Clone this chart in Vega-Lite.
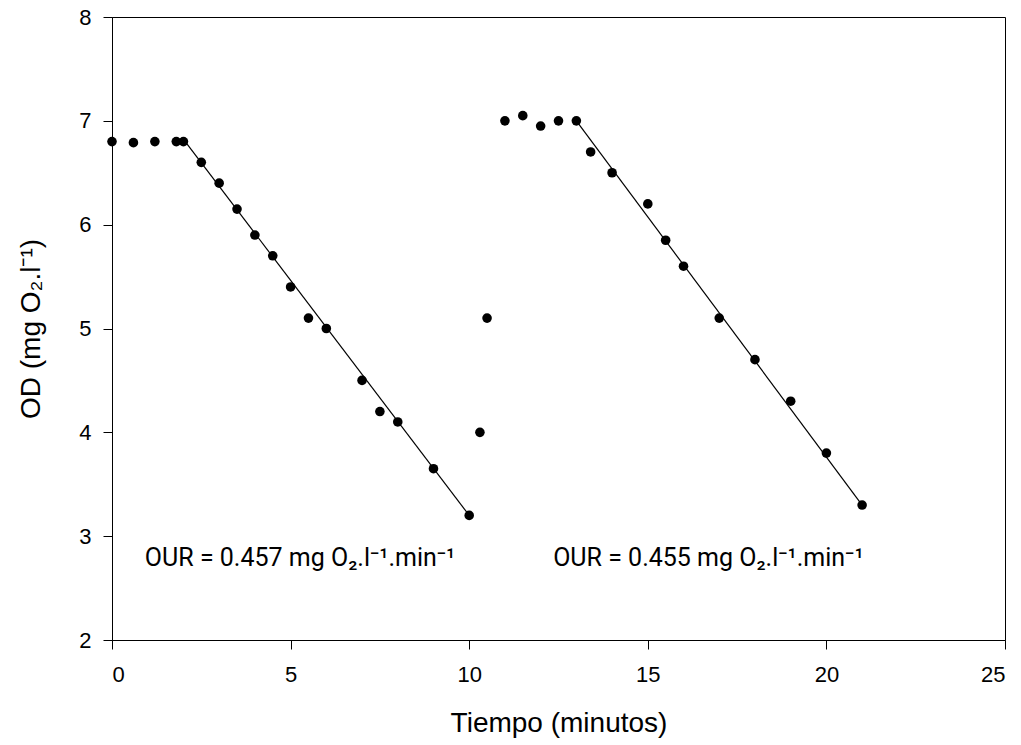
{
  "$schema": "https://vega.github.io/schema/vega-lite/v6.json",
  "width": 893,
  "height": 623,
  "autosize": {"type": "none"},
  "padding": {"left": 112, "top": 17, "right": 16, "bottom": 105},
  "background": "white",
  "config": {
    "view": {"stroke": "black", "strokeWidth": 1}
  },
  "datasets": {
    "pts": [
      {"t": 0, "od": 6.8}, {"t": 0.6, "od": 6.79}, {"t": 1.2, "od": 6.8}, {"t": 1.8, "od": 6.8}, {"t": 2.0, "od": 6.8},
      {"t": 2.5, "od": 6.6}, {"t": 3.0, "od": 6.4}, {"t": 3.5, "od": 6.15}, {"t": 4.0, "od": 5.9}, {"t": 4.5, "od": 5.7},
      {"t": 5.0, "od": 5.4}, {"t": 5.5, "od": 5.1}, {"t": 6.0, "od": 5.0}, {"t": 7.0, "od": 4.5}, {"t": 7.5, "od": 4.2},
      {"t": 8.0, "od": 4.1}, {"t": 9.0, "od": 3.65}, {"t": 10.0, "od": 3.2}, {"t": 10.3, "od": 4.0}, {"t": 10.5, "od": 5.1},
      {"t": 11.0, "od": 7.0}, {"t": 11.5, "od": 7.05}, {"t": 12.0, "od": 6.95}, {"t": 12.5, "od": 7.0}, {"t": 13.0, "od": 7.0},
      {"t": 13.4, "od": 6.7}, {"t": 14.0, "od": 6.5}, {"t": 15.0, "od": 6.2}, {"t": 15.5, "od": 5.85}, {"t": 16.0, "od": 5.6},
      {"t": 17.0, "od": 5.1}, {"t": 18.0, "od": 4.7}, {"t": 19.0, "od": 4.3}, {"t": 20.0, "od": 3.8}, {"t": 21.0, "od": 3.3}
    ],
    "fit": [
      {"seg": "a", "t": 2.05, "od": 6.8}, {"seg": "a", "t": 10.0, "od": 3.2},
      {"seg": "b", "t": 13.0, "od": 7.0}, {"seg": "b", "t": 21.0, "od": 3.3}
    ],
    "notes": [
      {"t": 0.92, "od": 2.71, "label": "OUR = 0.457 mg O₂.l⁻¹.min⁻¹"},
      {"t": 12.35, "od": 2.71, "label": "OUR = 0.455 mg O₂.l⁻¹.min⁻¹"}
    ]
  },
  "layer": [
    {
      "data": {"name": "fit"},
      "mark": {"type": "line", "color": "black", "strokeWidth": 1.2},
      "encoding": {
        "x": {"field": "t", "type": "quantitative"},
        "y": {"field": "od", "type": "quantitative"},
        "detail": {"field": "seg"}
      }
    },
    {
      "data": {"name": "pts"},
      "mark": {"type": "circle", "color": "black", "opacity": 1, "size": 92},
      "encoding": {
        "x": {
          "field": "t", "type": "quantitative",
          "scale": {"domain": [0, 25], "nice": false, "zero": false},
          "axis": {
            "values": [0, 5, 10, 15, 20, 25], "format": "d", "grid": false,
            "title": "Tiempo (minutos)", "titlePadding": 24, "labelPadding": 15,
            "labelFont": "Liberation Sans", "labelFontSize": 22, "labelColor": "black",
            "titleFont": "Liberation Sans", "titleFontSize": 28, "titleFontWeight": "normal", "titleColor": "black",
            "domainColor": "black", "tickColor": "black", "tickSize": 9
          }
        },
        "y": {
          "field": "od", "type": "quantitative",
          "scale": {"domain": [2, 8], "nice": false, "zero": false},
          "axis": {
            "values": [2, 3, 4, 5, 6, 7, 8], "format": "d", "grid": false,
            "title": "OD (mg O₂.l⁻¹)", "titlePadding": 33, "labelPadding": 12,
            "labelFont": "Liberation Sans", "labelFontSize": 22, "labelColor": "black",
            "titleFont": "Liberation Sans", "titleFontSize": 28, "titleFontWeight": "normal", "titleColor": "black",
            "domainColor": "black", "tickColor": "black", "tickSize": 9
          }
        }
      }
    },
    {
      "data": {"name": "notes"},
      "mark": {"type": "text", "align": "left", "baseline": "alphabetic", "font": "Roboto", "fontSize": 25, "color": "black"},
      "encoding": {
        "x": {"field": "t", "type": "quantitative"},
        "y": {"field": "od", "type": "quantitative"},
        "text": {"field": "label"}
      }
    }
  ]
}
